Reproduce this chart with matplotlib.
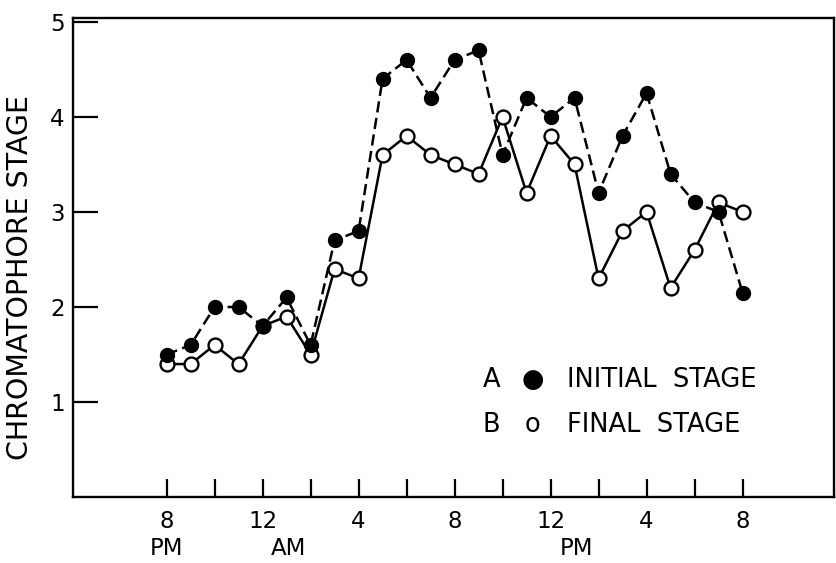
import matplotlib
matplotlib.use("Agg")
import matplotlib.pyplot as plt
import matplotlib.transforms as mtransforms

# hours after 8 PM, one reading per hour
hours = list(range(0, 25))

# A: initial stage (filled circles, dashed)
initial_stage = [1.5, 1.6, 2.0, 2.0, 1.8, 2.1, 1.6, 2.7, 2.8, 4.4, 4.6, 4.2, 4.6,
                 4.7, 3.6, 4.2, 4.0, 4.2, 3.2, 3.8, 4.25, 3.4, 3.1, 3.0, 2.15]
# B: final stage (open circles, solid)
final_stage = [1.4, 1.4, 1.6, 1.4, 1.8, 1.9, 1.5, 2.4, 2.3, 3.6, 3.8, 3.6, 3.5,
               3.4, 4.0, 3.2, 3.8, 3.5, 2.3, 2.8, 3.0, 2.2, 2.6, 3.1, 3.0]

# ticks every 2 hours, labelled every 4
x_ticks = list(range(0, 25, 2))
x_ticklabels = ["8", "", "12", "", "4", "", "8", "", "12", "", "4", "", "8"]
ampm_labels = ["PM", "AM", "PM"]
ampm_hours = [0, 5.1, 17.1]

y_ticks = [1, 2, 3, 4, 5]

fig = plt.figure(figsize=(8.36, 5.63), dpi=100)
ax = fig.add_axes([0.0873, 0.117, 0.91, 0.851])

ax.plot(hours, final_stage, color="black", lw=1.8, marker="o", ms=10,
        mfc="white", mec="black", mew=1.7, zorder=2)
ax.plot(hours, initial_stage, color="black", lw=1.8, ls=(0, (4.5, 2.2)),
        marker="o", ms=10, mfc="black", mec="black", zorder=3)

ax.set_xlim(-3.9, 27.8)
ax.set_ylim(0, 5.04)

ax.set_xticks(x_ticks)
ax.set_xticklabels(x_ticklabels)
ax.set_yticks(y_ticks)
ax.set_yticklabels([str(v) for v in y_ticks])

ax.tick_params(axis="x", direction="in", length=13, width=1.6, pad=9, labelsize=16.5)
ax.tick_params(axis="y", direction="in", length=18, width=1.6, pad=6, labelsize=16.5)

for s in ax.spines.values():
    s.set_linewidth(1.7)

trans = mtransforms.blended_transform_factory(ax.transData, ax.transAxes)
for lab, h in zip(ampm_labels, ampm_hours):
    ax.text(h, -0.108, lab, transform=trans, ha="center", va="center", fontsize=16.5)

ax.set_ylabel("CHROMATOPHORE STAGE", fontsize=20.5)
ax.yaxis.set_label_coords(-0.051, 0.459)

# legend drawn as text, like the original figure
ax.text(0.550, 0.245, "A", transform=ax.transAxes, ha="center", va="center", fontsize=18.5)
ax.text(0.604, 0.245, "\u25CF", transform=ax.transAxes, ha="center", va="center", fontsize=18.5)
ax.text(0.650, 0.245, "INITIAL  STAGE", transform=ax.transAxes, ha="left", va="center", fontsize=18.5)
ax.text(0.550, 0.151, "B", transform=ax.transAxes, ha="center", va="center", fontsize=18.5)
ax.text(0.604, 0.151, "o", transform=ax.transAxes, ha="center", va="center", fontsize=18.5)
ax.text(0.650, 0.151, "FINAL  STAGE", transform=ax.transAxes, ha="left", va="center", fontsize=18.5)

fig.savefig("out.png", dpi=100)
